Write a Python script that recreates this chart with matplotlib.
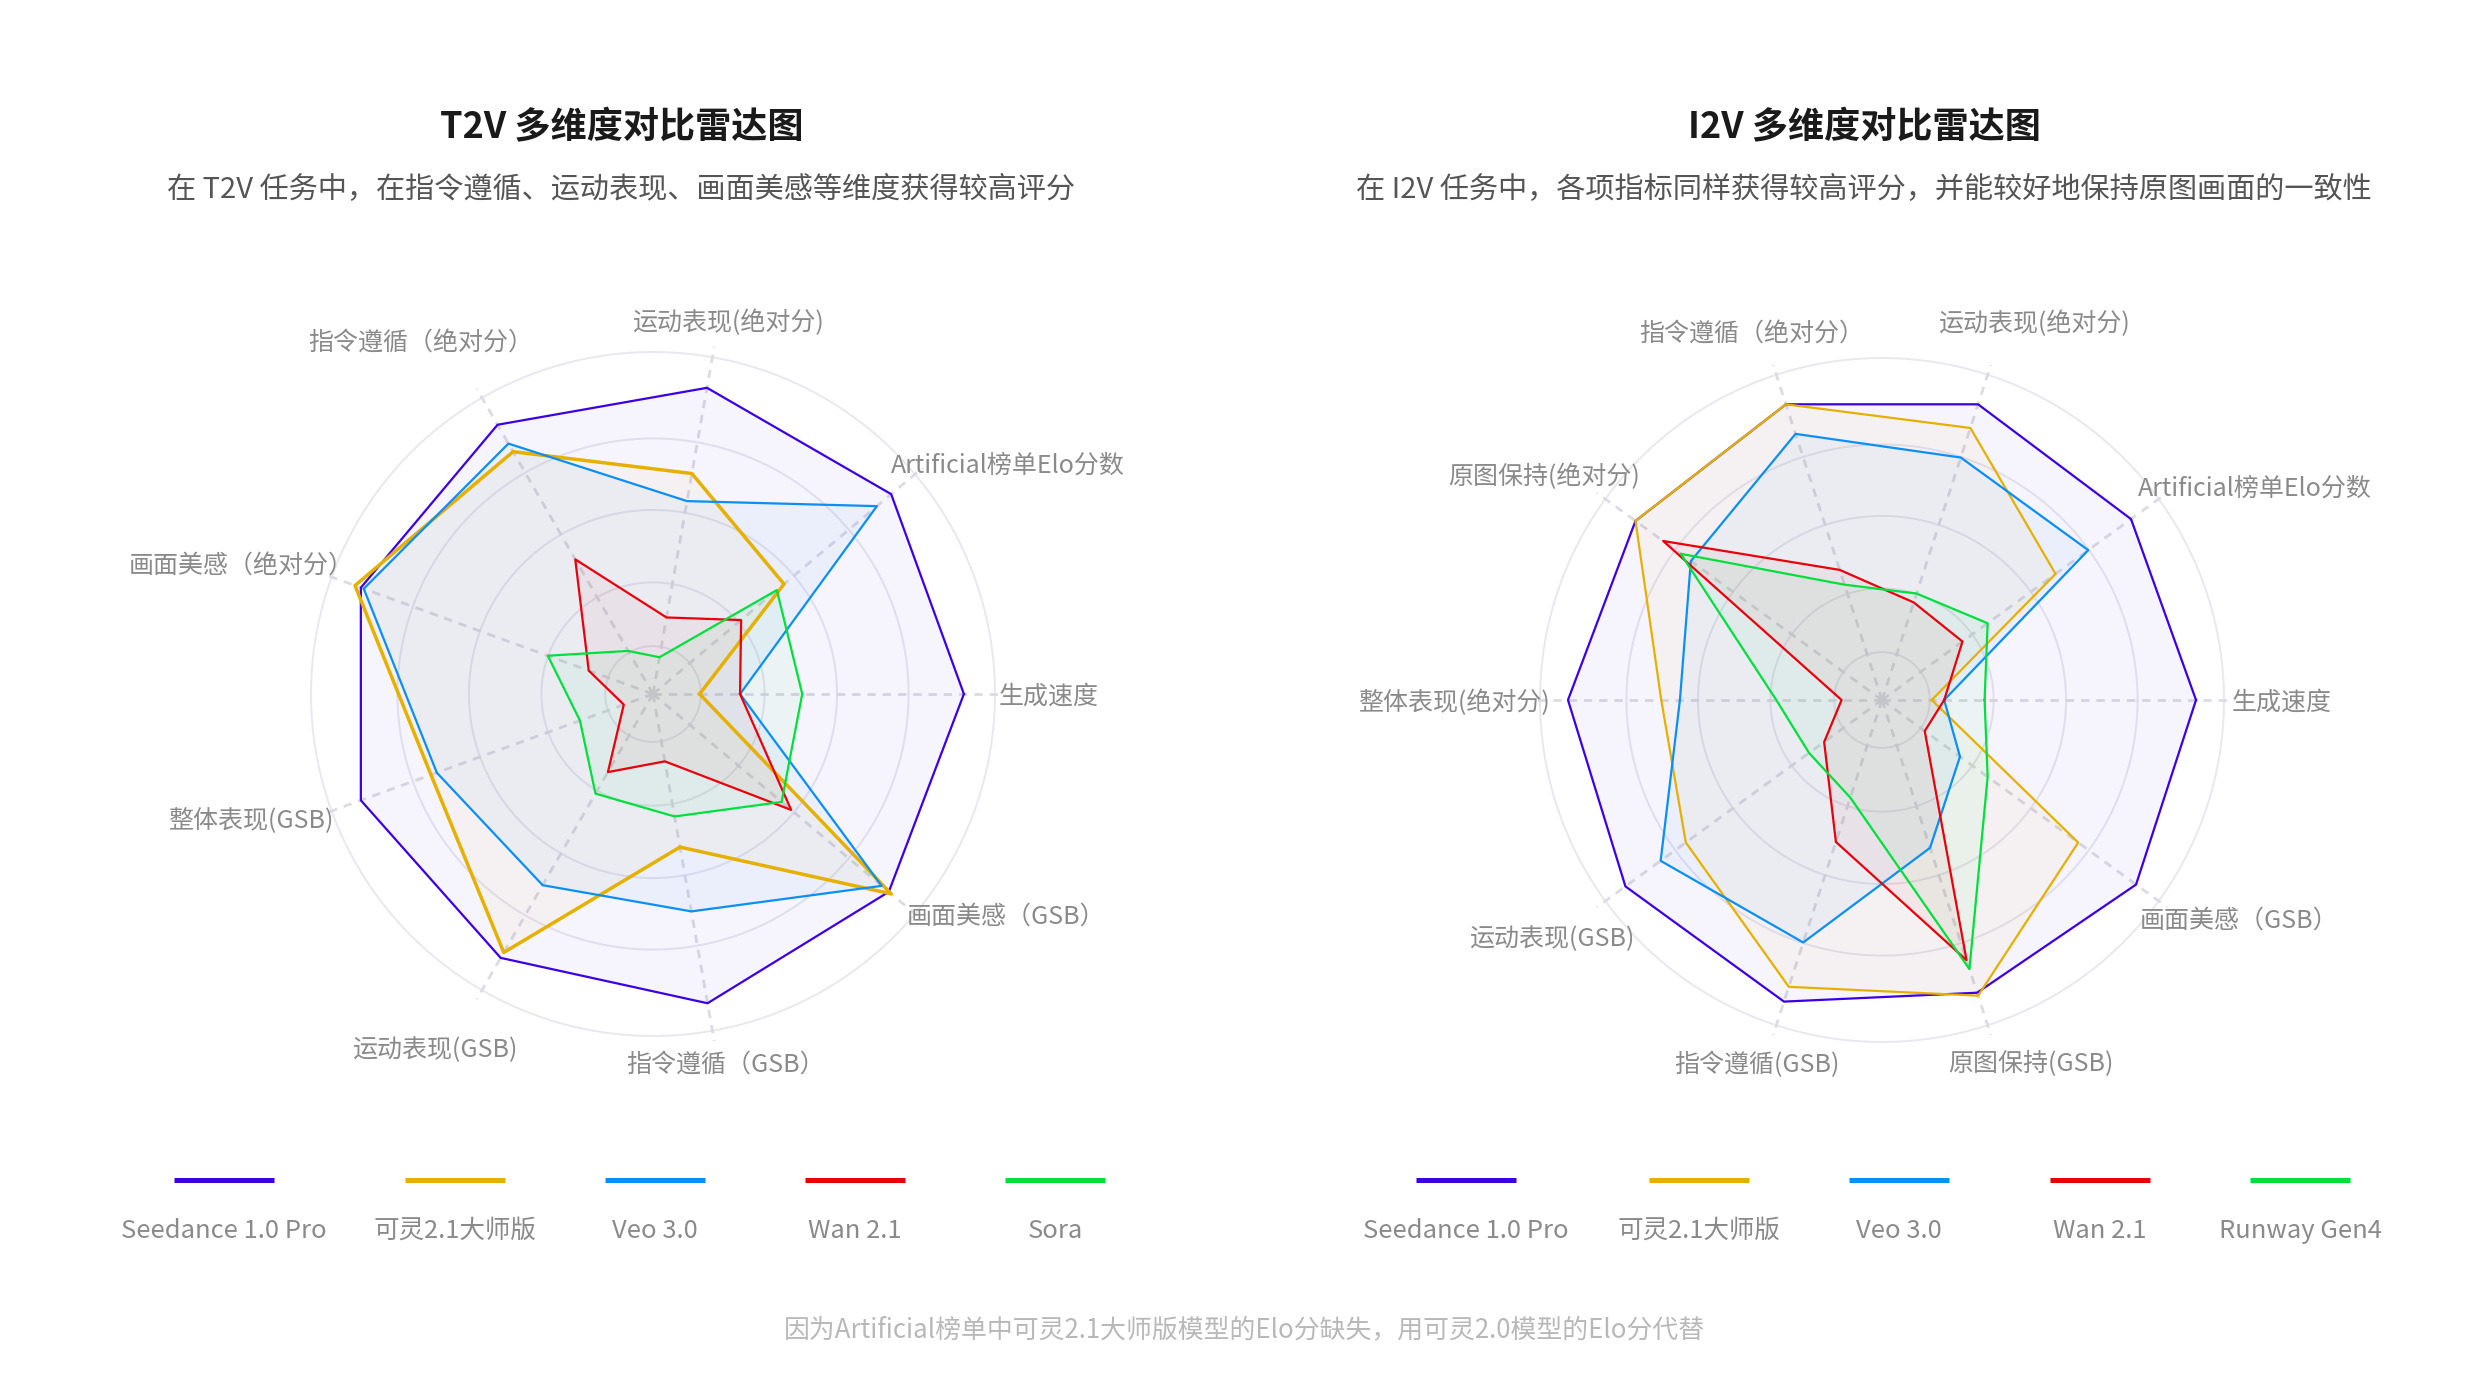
import numpy as np
import matplotlib.pyplot as plt
import matplotlib.transforms as mtransforms
from matplotlib.lines import Line2D

plt.rcParams['font.family'] = ['Noto Sans CJK SC', 'DejaVu Sans']

# ---- data (outer ring = 110, Seedance = 100) ----
dims_t2v = ['生成速度', 'Artificial榜单Elo分数', '运动表现(绝对分)', '指令遵循（绝对分）',
            '画面美感（绝对分）', '整体表现(GSB)', '运动表现(GSB)', '指令遵循（GSB）', '画面美感（GSB）']
dims_i2v = ['生成速度', 'Artificial榜单Elo分数', '运动表现(绝对分)', '指令遵循（绝对分）',
            '原图保持(绝对分)', '整体表现(绝对分)', '运动表现(GSB)', '指令遵循(GSB)',
            '原图保持(GSB)', '画面美感（GSB）']

models_t2v = ['Seedance 1.0 Pro', '可灵2.1大师版', 'Veo 3.0', 'Wan 2.1', 'Sora']
models_i2v = ['Seedance 1.0 Pro', '可灵2.1大师版', 'Veo 3.0', 'Wan 2.1', 'Runway Gen4']

t2v_seedance = [100, 100, 100, 100, 100, 100, 98, 101, 99]
t2v_kling = [15, 55, 72, 90, 102, 76, 96, 50, 100]
t2v_veo = [28, 94, 63, 93, 99, 74, 71, 71, 96]
t2v_wan = [28, 37, 25, 50, 22, 10, 29, 22, 58]
t2v_sora = [48, 52, 12, 16, 36, 25, 37, 40, 54]

i2v_seedance = [101, 99, 100, 100, 98, 101, 102, 102, 99, 101]
i2v_kling = [16, 69, 92, 100, 98, 71, 78, 97, 100, 78]
i2v_veo = [20, 82, 82, 90, 76, 65, 88, 82, 50, 31]
i2v_wan = [20, 32, 33, 44, 87, 13, 23, 48, 88, 17]
i2v_runway = [33, 42, 36, 39, 80, 34, 29, 33, 91, 42]

ring_levels = [15.4, 35.9, 59.2, 82.2, 110]

# ---- style / layout ----
colors = ['#3b00e6', '#e6b000', '#0a8ff5', '#e8000b', '#00e03c']
RMAX = 110
W, H = 2488, 1380
TY = 4  # push text down a little (CJK glyphs sit high in their box)

# label centres in units of outer radius (dx, dy)
lab_t2v = [(1.157, 0), (1.037, 0.675), (0.218, 1.094), (-0.680, 1.032), (-1.204, 0.382),
           (-1.176, -0.360), (-0.638, -1.033), (0.211, -1.075), (1.032, -0.643)]
lab_i2v = [(1.169, 0), (1.090, 0.627), (0.445, 1.110), (-0.381, 1.077), (-0.989, 0.660),
           (-1.253, 0), (-0.965, -0.691), (-0.367, -1.057), (0.436, -1.057), (1.044, -0.635)]

fig = plt.figure(figsize=(W / 100, H / 100), dpi=100)
fig.patch.set_facecolor('white')


def radar(cx, cy, dims, series, labpos, lws):
    rpx = 342 * 120 / RMAX
    ax = fig.add_axes([(cx - rpx) / W, (H - cy - rpx) / H, 2 * rpx / W, 2 * rpx / H],
                      projection='polar')
    ax.set_ylim(0, 120)
    ax.axis('off')
    n = len(dims)
    ang = np.arange(n) * 2 * np.pi / n
    t = np.linspace(0, 2 * np.pi, 400)
    for lv in ring_levels:
        ax.plot(t, [lv] * len(t), color='#e8e8ee', lw=1.4, zorder=1)
    for a in ang:
        ax.plot([a, a], [0, RMAX * 1.03], color='#dcdce2', lw=2.0,
                linestyle=(0, (3, 2.5)), zorder=1)
    for i, vals in enumerate(series):
        th = np.append(ang, ang[0])
        rr = np.append(vals, vals[0])
        ax.fill(th, rr, color=colors[i], alpha=0.045, lw=0, zorder=2)
        ax.plot(th, rr, color=colors[i], lw=lws[i], zorder=3 + i)
    tr = mtransforms.offset_copy(ax.transData, fig=fig, x=0, y=-3, units='dots')
    for name, (dx, dy) in zip(dims, labpos):
        ax.text(np.arctan2(dy, dx), np.hypot(dx, dy) * RMAX, name, ha='center', va='center',
                fontsize=18, color='#8a8a8a', clip_on=False, transform=tr)
    return ax


radar(653, 694, dims_t2v, [t2v_seedance, t2v_kling, t2v_veo, t2v_wan, t2v_sora],
      lab_t2v, [1.6, 2.5, 1.6, 1.6, 1.6])
radar(1882, 700, dims_i2v, [i2v_seedance, i2v_kling, i2v_veo, i2v_wan, i2v_runway],
      lab_i2v, [1.6, 1.6, 1.6, 1.6, 1.6])

# titles
fig.text(622 / W, 1 - (124 + TY) / H, 'T2V 多维度对比雷达图', ha='center', va='center',
         fontsize=26, fontweight='bold', color='#1a1a1a')
fig.text(621 / W, 1 - (186 + TY) / H, '在 T2V 任务中，在指令遵循、运动表现、画面美感等维度获得较高评分',
         ha='center', va='center', fontsize=21, color='#555555')
fig.text(1864 / W, 1 - (124 + TY) / H, 'I2V 多维度对比雷达图', ha='center', va='center',
         fontsize=26, fontweight='bold', color='#1a1a1a')
fig.text(1864 / W, 1 - (186 + TY) / H, '在 I2V 任务中，各项指标同样获得较高评分，并能较好地保持原图画面的一致性',
         ha='center', va='center', fontsize=21, color='#555555')

# legends
leg_x_left = [224, 455, 655, 855, 1055]
leg_x_right = [1466, 1699, 1899, 2100, 2300]
for xs, names in [(leg_x_left, models_t2v), (leg_x_right, models_i2v)]:
    for i, (x, name) in enumerate(zip(xs, names)):
        fig.add_artist(Line2D([(x - 50) / W, (x + 50) / W], [1 - 1180 / H, 1 - 1180 / H],
                              color=colors[i], lw=3.6, solid_capstyle='butt'))
        fig.text(x / W, 1 - (1227 + TY) / H, name, ha='center', va='center', fontsize=18.4,
                 color='#8a8a8a')

fig.text(1244 / W, 1 - (1326 + TY) / H,
         '因为Artificial榜单中可灵2.1大师版模型的Elo分缺失，用可灵2.0模型的Elo分代替',
         ha='center', va='center', fontsize=18.6, color='#b8b8b8')

fig.savefig('out.png', dpi=100)
